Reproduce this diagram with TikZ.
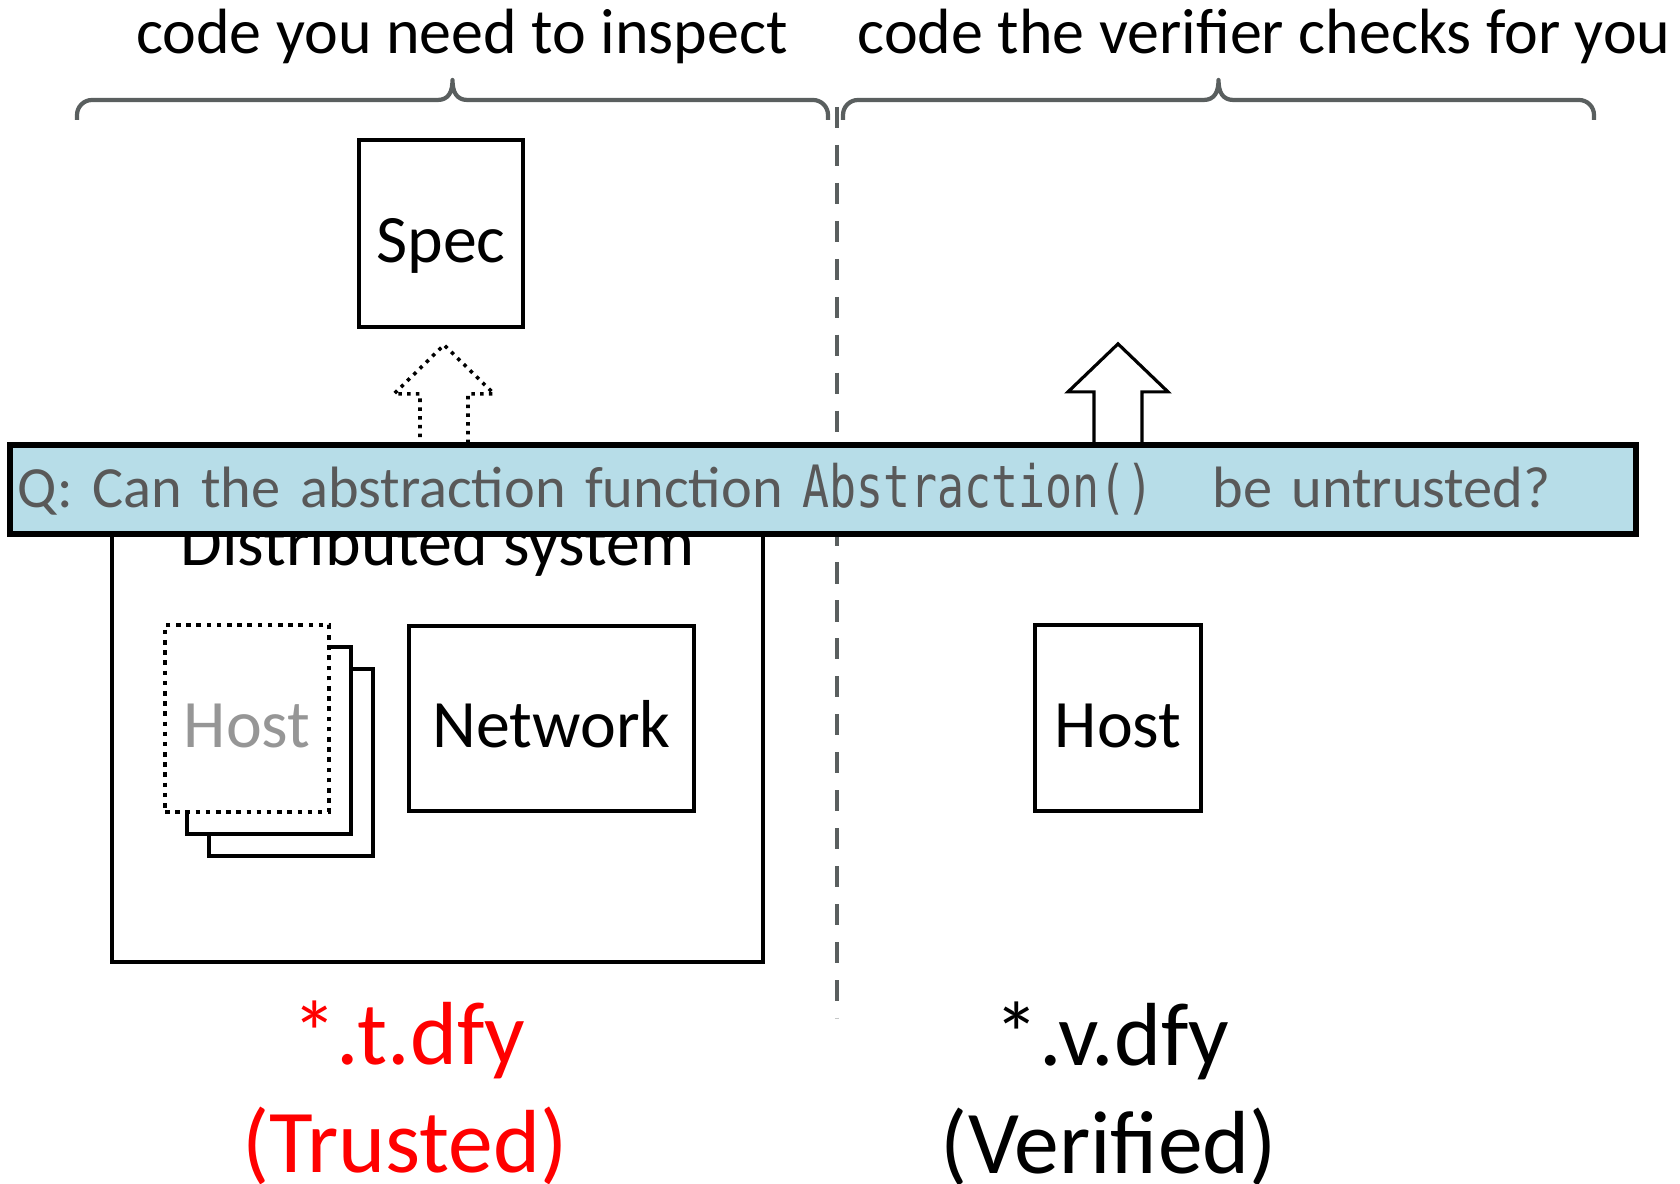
\documentclass[tikz,border=0pt]{standalone}
\usepackage{fontspec}
\setmainfont{Carlito}
\setmonofont{DejaVu Sans Mono}[FakeStretch=0.77]
\definecolor{braceGray}{RGB}{90,95,95}
\definecolor{qGray}{RGB}{89,89,89}
\definecolor{hostGray}{RGB}{150,150,150}
\definecolor{bannerBlue}{RGB}{183,221,232}
\definecolor{myRed}{RGB}{255,0,0}

\tikzset{
	box/.style={draw,line width=1.2pt,fill=white,minimum width=1.64cm,minimum height=1.87cm,inner sep=0pt,text height=18pt,text depth=1.4pt,font=\fontsize{19.3}{23}\selectfont},
	topbrace/.style={braceGray,line width=1.2pt,line join=round},
	toplabel/.style={anchor=base,inner sep=0pt,font=\fontsize{18.2}{22}\selectfont},
	filelabel/.style={anchor=base,inner sep=0pt,font=\fontsize{25.5}{30}\selectfont},
	bigarrow/.style={line width=0.9pt,line join=miter},
	banner/.style={draw,line width=1.5pt,fill=bannerBlue,text=qGray,minimum height=0.89cm,text width=16.1cm,align=left,inner xsep=0.08cm,font=\fontsize{16.6}{19}\selectfont}
}

\begin{document}
\begin{tikzpicture}
	\useasboundingbox (0,0) rectangle (16.8,11.84);

	% braces and their captions
	\begin{scope}[shift={(0.77,10.64)}]
		\draw[topbrace] (0,0) -- (0,0.05) arc[start angle=180,end angle=90,radius=0.15] -- (3.605,0.20) .. controls (3.715,0.20) and (3.755,0.28) .. (3.755,0.40) .. controls (3.755,0.28) and (3.795,0.20) .. (3.905,0.20) -- (7.36,0.20) arc[start angle=90,end angle=0,radius=0.15] -- (7.51,0);
	\end{scope}
	\begin{scope}[shift={(8.43,10.64)}]
		\draw[topbrace] (0,0) -- (0,0.05) arc[start angle=180,end angle=90,radius=0.15] -- (3.605,0.20) .. controls (3.715,0.20) and (3.755,0.28) .. (3.755,0.40) .. controls (3.755,0.28) and (3.795,0.20) .. (3.905,0.20) -- (7.36,0.20) arc[start angle=90,end angle=0,radius=0.15] -- (7.51,0);
	\end{scope}
	\node[toplabel] (inspect) at (4.62,11.30) {code you need to inspect};
	\node[toplabel] (checked) at (12.64,11.30) {code the verifier checks for you};

	% trusted | verified split
	\draw[braceGray,line width=1.4pt,dash pattern=on 6pt off 4.8pt] (8.37,10.77) -- (8.37,1.66);

	\node[box] (spec) at (4.41,9.505) {Spec};

	% distributed system
	\node[box,minimum width=6.51cm,minimum height=4.70cm] (dist) at (4.375,4.57) {};
	\node[anchor=base,inner sep=0pt,font=\fontsize{19.3}{23}\selectfont] (distlabel) at (4.375,6.18) {Distributed system};

	\node[box] (host3) at (2.91,4.215) {};
	\node[box] (host2) at (2.69,4.435) {};
	\node[box,line width=1.3pt,dash pattern=on 1.3pt off 1.6pt,text=hostGray] (host1) at (2.47,4.655) {Host};
	\node[box,minimum width=2.85cm,minimum height=1.85cm] (network) at (5.515,4.655) {Network};

	\node[box,minimum width=1.66cm,minimum height=1.86cm] (host) at (11.18,4.66) {Host};

	% refinement arrows
	\begin{scope}[shift={([xshift=0.03cm]spec.south |- dist.north)}]
		\draw[bigarrow,line width=1pt,dash pattern=on 1pt off 1.5pt] (-0.24,0) -- (-0.24,0.96) -- (-0.5,0.96) -- (0,1.45) -- (0.5,0.96) -- (0.24,0.96) -- (0.24,0);
	\end{scope}
	\begin{scope}[shift={(host.north |- dist.north)}]
		\draw[bigarrow] (-0.24,0) -- (-0.24,0.98) -- (-0.5,0.98) -- (0,1.46) -- (0.5,0.98) -- (0.24,0.98) -- (0.24,0);
	\end{scope}

	\node[banner] (question) at (8.23,6.945) {Q: Can the abstraction function \texttt{Abstraction()}\quad be untrusted?};

	% file kinds
	\node[filelabel,text=myRed] (tfile) at (4.09,1.19) {*.t.dfy};
	\node[filelabel,text=myRed] (tnote) at (4.05,0.11) {(Trusted)};
	\node[filelabel] (vfile) at (11.12,1.18) {*.v.dfy};
	\node[filelabel] (vnote) at (11.09,0.10) {(Verified)};
\end{tikzpicture}
\end{document}
